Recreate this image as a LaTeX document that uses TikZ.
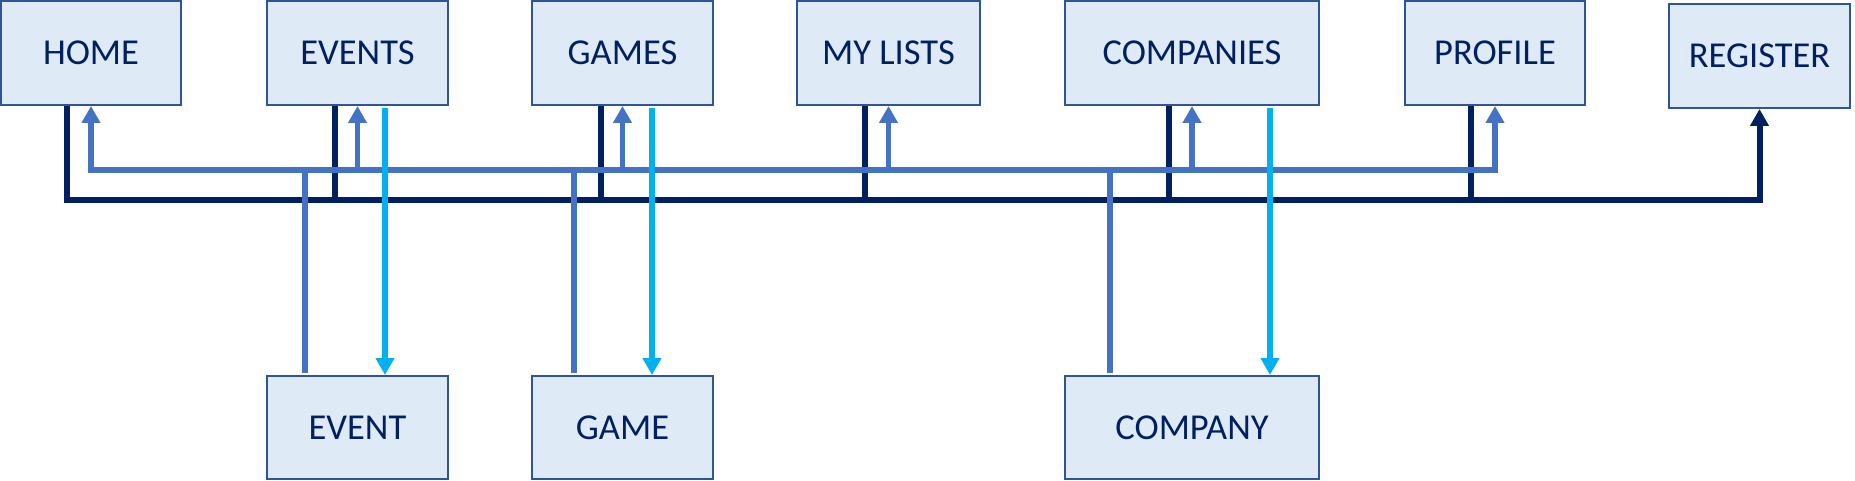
\documentclass[tikz,border=0pt]{standalone}
\usepackage{fontspec}
\setmainfont{Carlito}
\usetikzlibrary{arrows.meta}
\definecolor{boxfill}{HTML}{DEEBF7}
\definecolor{boxline}{HTML}{2F5597}
\definecolor{txtc}{HTML}{002060}
\definecolor{navyc}{HTML}{002060}
\definecolor{bluec}{HTML}{4472C4}
\definecolor{cyanc}{HTML}{00B0F0}
\tikzset{
  pagebox/.style={draw=boxline, line width=2pt, fill=boxfill, text=txtc,
    font=\fontsize{36.5}{40}\selectfont, inner sep=0pt, anchor=center,
    minimum height=104pt},
  navyline/.style={draw=navyc, line width=6pt},
  blueline/.style={draw=bluec, line width=5.5pt},
  cyanline/.style={draw=cyanc, line width=6pt},
  >={Triangle[width=18pt,length=17pt]}
}
\begin{document}
\begin{tikzpicture}[x=1pt,y=-1pt]
\useasboundingbox (0,0) rectangle (1855,481);
% top row
\node[pagebox, minimum width=180pt] (home)      at (91,53)     {HOME};
\node[pagebox, minimum width=181pt] (events)    at (357.5,53)  {EVENTS};
\node[pagebox, minimum width=181pt] (games)     at (622.5,53)  {GAMES};
\node[pagebox, minimum width=183pt] (mylists)   at (888.5,53)  {MY LISTS};
\node[pagebox, minimum width=254pt] (companies) at (1192,53)   {COMPANIES};
\node[pagebox, minimum width=180pt] (profile)   at (1495,53)   {PROFILE};
\node[pagebox, minimum width=181pt] (register)  at (1759.5,56) {REGISTER};
% bottom row
\node[pagebox, minimum width=181pt, minimum height=103pt] (event)   at (357.5,427.5) {EVENT};
\node[pagebox, minimum width=181pt, minimum height=103pt] (game)    at (622.5,427.5) {GAME};
\node[pagebox, minimum width=254pt, minimum height=103pt] (company) at (1192,427.5)   {COMPANY};
% bus levels
\coordinate (nb) at (0,200);
\coordinate (cb) at (0,170);
% navy bus to REGISTER
\draw[navyline,->] ([xshift=-24pt]home.south) |- (register.south |- nb) -- (register.south);
\draw[navyline] ([xshift=-22.5pt]events.south) -- ([xshift=-22.5pt]events.south |- nb);
\draw[navyline] ([xshift=-21.5pt]games.south) -- ([xshift=-21.5pt]games.south |- nb);
\draw[navyline] ([xshift=-23.5pt]mylists.south) -- ([xshift=-23.5pt]mylists.south |- nb);
\draw[navyline] ([xshift=-23pt]companies.south) -- ([xshift=-23pt]companies.south |- nb);
\draw[navyline] ([xshift=-24pt]profile.south) -- ([xshift=-24pt]profile.south |- nb);
% blue bus from detail pages to top pages
\draw[blueline,<->] (home.south) |- (profile.south |- cb) -- (profile.south);
\draw[blueline,->] (events.south |- cb) -- (events.south);
\draw[blueline,->] (games.south |- cb) -- (games.south);
\draw[blueline,->] (mylists.south |- cb) -- (mylists.south);
\draw[blueline,->] (companies.south |- cb) -- (companies.south);
\draw[blueline] ([xshift=-52.5pt]event.north |- cb) -- ([xshift=-52.5pt,yshift=2pt]event.north);
\draw[blueline] ([xshift=-48.5pt]game.north |- cb) -- ([xshift=-48.5pt,yshift=2pt]game.north);
\draw[blueline] ([xshift=-82pt]company.north |- cb) -- ([xshift=-82pt,yshift=2pt]company.north);
% cyan links to detail pages
\draw[cyanline,->] ([xshift=27.5pt,yshift=-2pt]events.south) -- ([xshift=27.5pt]events.south |- event.north);
\draw[cyanline,->] ([xshift=29.5pt,yshift=-2pt]games.south) -- ([xshift=29.5pt]games.south |- game.north);
\draw[cyanline,->] ([xshift=78pt,yshift=-2pt]companies.south) -- ([xshift=78pt]companies.south |- company.north);
\end{tikzpicture}
\end{document}
